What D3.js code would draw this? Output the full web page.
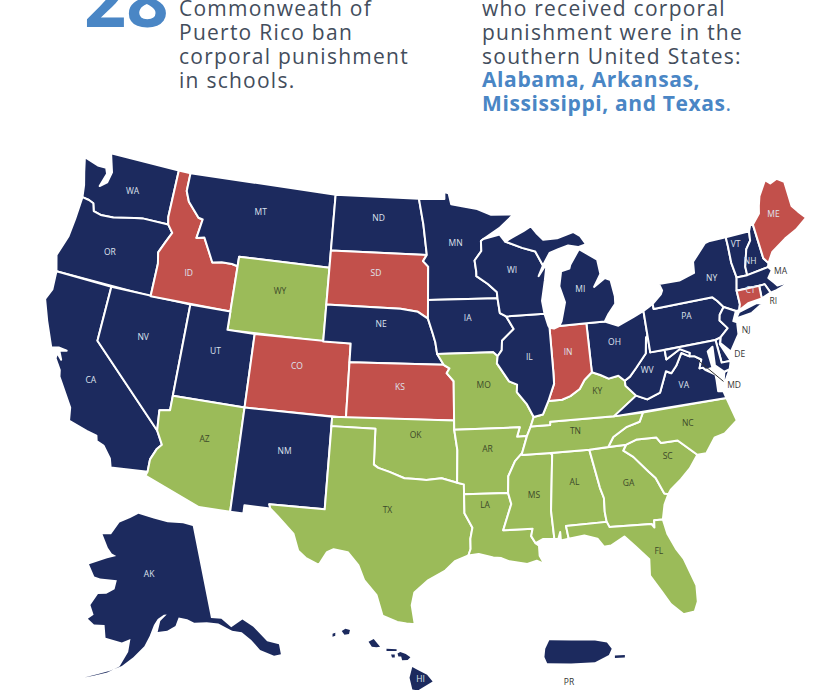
<!DOCTYPE html>
<html lang="en">
  <head>
    <meta charset="UTF-8" />
    <title>Corporal punishment in schools</title>
    <style>
      body { margin: 0; background: #fff; }
      text { font-family: "Open Sans", sans-serif; }
    </style>
  </head>
  <body>
    <svg width="840" height="690"></svg>

    <script src="https://cdn.jsdelivr.net/npm/d3@7"></script>
    <script>
      // policy groups
      const greenStates = ["WY","AZ","TX","OK","MO","AR","LA","MS","AL","GA","FL","SC","NC","TN","KY"];
      const redStates = ["ID","SD","CO","KS","IN","ME","CT"];
      const navyStates = ["WA","OR","CA","NV","UT","MT","ND","NE","NM","MN","IA","WI","IL","MI","OH","PA","NY","VT","NH","MA","RI","NJ","DE","MD","VA","WV","AK","HI","PR"];

      const leftLines = ["Commonweath of", "Puerto Rico ban", "corporal punishment", "in schools."];
      const rightLines = ["who received corporal", "punishment were in the", "southern United States:"];
      const rightBold = ["Alabama, Arkansas,", "Mississippi, and Texas"];

      // state outlines, lon/lat, hand simplified
      const WA = [[[-124.7,48.38],[-124.4,47.6],[-124.1,46.9],[-123.95,46.25],[-123.4,46.2],[-123,46.1],[-122.8,45.7],[-122.2,45.6],[-121.2,45.65],[-120.6,45.75],[-119.6,45.92],[-118.98,46],[-116.92,46],[-117.04,46.4],[-117.03,49],[-122.75,49],[-122.5,48.5],[-122.25,48],[-122.4,47.4],[-122.9,47.1],[-122.6,47.85],[-122.8,48.15],[-123.5,48.15]]];
      const OR = [[[-123.95,46.25],[-123.4,46.2],[-123,46.1],[-122.8,45.7],[-122.2,45.6],[-121.2,45.65],[-120.6,45.75],[-119.6,45.92],[-118.98,46],[-116.92,46],[-116.47,45.6],[-116.85,45],[-117.2,44.4],[-117.03,43.8],[-117.03,42],[-124.2,42],[-124.55,42.84],[-124.1,44],[-124,45]]];
      const CA = [[[-124.2,42],[-120,42],[-120,39],[-114.63,35],[-114.14,34.3],[-114.43,34],[-114.72,33.4],[-114.72,32.72],[-117.12,32.53],[-117.3,33],[-117.9,33.6],[-118.4,33.75],[-118.5,34.03],[-119.2,34.15],[-120.5,34.45],[-120.65,35.15],[-121.9,36.6],[-122,36.95],[-122.5,37.5],[-122.5,37.8],[-122.1,37.5],[-122.4,37.95],[-121.9,38.05],[-122.5,38.1],[-123,38],[-123.8,39.3],[-124.4,40.4],[-124.1,41]]];
      const NV = [[[-120,42],[-114.04,42],[-114.04,36.2],[-114.75,36.1],[-114.63,35],[-120,39]]];
      const ID = [[[-117.03,49],[-116.05,49],[-116.05,48],[-115.7,47.45],[-114.7,46.7],[-114.35,46.65],[-114.55,45.6],[-113.95,45.7],[-113.45,45.05],[-113,44.45],[-112.3,44.55],[-111.5,44.55],[-111.05,44.48],[-111.05,42],[-117.03,42],[-117.03,43.8],[-117.2,44.4],[-116.85,45],[-116.47,45.6],[-116.92,46],[-117.04,46.4]]];
      const MT = [[[-116.05,49],[-104.05,49],[-104.05,45],[-111.05,45],[-111.05,44.48],[-111.5,44.55],[-112.3,44.55],[-113,44.45],[-113.45,45.05],[-113.95,45.7],[-114.55,45.6],[-114.35,46.65],[-114.7,46.7],[-115.7,47.45],[-116.05,48]]];
      const WY = [[[-111.05,45],[-104.05,45],[-104.05,41],[-111.05,41]]];
      const UT = [[[-114.04,42],[-111.05,42],[-111.05,41],[-109.05,41],[-109.05,37],[-114.04,37]]];
      const CO = [[[-109.05,41],[-102.05,41],[-102.05,37],[-109.05,37]]];
      const AZ = [[[-114.04,37],[-109.05,37],[-109.05,31.33],[-111.07,31.33],[-114.81,32.5],[-114.72,32.72],[-114.72,33.4],[-114.43,34],[-114.14,34.3],[-114.63,35],[-114.75,36.1],[-114.04,36.2]]];
      const NM = [[[-109.05,37],[-103,37],[-103.04,32],[-106.62,32],[-106.53,31.78],[-108.2,31.78],[-108.2,31.33],[-109.05,31.33]]];
      const ND = [[[-104.05,49],[-97.23,49],[-96.85,47.6],[-96.56,45.94],[-104.05,45.94]]];
      const SD = [[[-104.05,45.94],[-96.56,45.94],[-96.85,45.6],[-96.45,45.3],[-96.45,43.5],[-96.45,42.49],[-97.2,42.85],[-98.5,43],[-104.05,43]]];
      const NE = [[[-104.05,43],[-98.5,43],[-97.2,42.85],[-96.45,42.49],[-96.1,41.7],[-95.9,41.2],[-95.77,40.58],[-95.31,40],[-102.05,40],[-102.05,41],[-104.05,41]]];
      const KS = [[[-102.05,40],[-95.31,40],[-94.9,39.8],[-95.1,39.55],[-94.61,39.11],[-94.62,37],[-102.05,37]]];
      const OK = [[[-103,37],[-94.62,37],[-94.62,36.5],[-94.43,35.4],[-94.48,33.64],[-95.5,33.9],[-96.5,33.8],[-97.2,33.85],[-97.95,33.88],[-98.95,34.2],[-99.7,34.4],[-100,34.56],[-100,36.5],[-103,36.5]]];
      const TX = [[[-103,36.5],[-100,36.5],[-100,34.56],[-99.7,34.4],[-98.95,34.2],[-97.95,33.88],[-97.2,33.85],[-96.5,33.8],[-95.5,33.9],[-94.48,33.64],[-94.04,33.55],[-94.04,33.02],[-94.04,31.99],[-93.55,31.2],[-93.7,30.6],[-93.7,30.05],[-93.85,29.7],[-94.7,29.4],[-95.3,28.9],[-96.4,28.35],[-97.2,27.7],[-97.35,27],[-97.15,25.96],[-97.65,26],[-98.2,26.07],[-99.1,26.4],[-99.5,27.5],[-100.3,28.3],[-100.7,29.1],[-101.4,29.77],[-102.3,29.88],[-102.7,29.7],[-103.15,28.98],[-104,29.3],[-104.5,29.65],[-104.9,30.55],[-106,31.4],[-106.53,31.78],[-106.62,32],[-103.04,32]]];
      const MN = [[[-97.23,49],[-95.15,49],[-95.15,49.38],[-94.8,49.3],[-94.6,48.7],[-93.5,48.55],[-92.5,48.4],[-91.4,48.05],[-89.6,48],[-90.8,47.3],[-92.1,46.75],[-92.3,46.65],[-92.3,46.1],[-92.85,45.6],[-92.75,45],[-92.75,44.75],[-91.9,44.3],[-91.25,43.85],[-91.22,43.5],[-96.45,43.5],[-96.45,45.3],[-96.85,45.6],[-96.56,45.94],[-96.85,47.6]]];
      const IA = [[[-96.45,43.5],[-91.22,43.5],[-91.1,42.7],[-90.65,42.5],[-90.15,41.8],[-91.05,41.2],[-91.1,40.7],[-91.42,40.38],[-91.73,40.61],[-95.77,40.58],[-95.9,41.2],[-96.1,41.7],[-96.45,42.49]]];
      const MO = [[[-95.77,40.58],[-91.73,40.61],[-91.42,40.38],[-91.5,40],[-90.7,39],[-90.15,38.8],[-90.2,38.4],[-89.55,37.7],[-89.15,37],[-89.4,36.5],[-89.7,36],[-90.37,36],[-90.15,36.5],[-94.62,36.5],[-94.62,37],[-94.61,39.11],[-95.1,39.55],[-94.9,39.8],[-95.31,40]]];
      const AR = [[[-94.62,36.5],[-90.15,36.5],[-90.37,36],[-89.7,36],[-90.1,35.1],[-90.6,34.7],[-91.1,33.9],[-91.17,33],[-94.04,33.02],[-94.04,33.55],[-94.48,33.64],[-94.43,35.4]]];
      const LA = [[[-94.04,33.02],[-91.17,33],[-91,32.4],[-91.6,31],[-89.73,31],[-89.85,30.6],[-89.6,30.2],[-89.4,30.05],[-89.4,29.5],[-89.15,29.05],[-89.6,29.25],[-90.2,29.1],[-91.3,29.3],[-91.8,29.5],[-92.3,29.55],[-93.2,29.77],[-93.85,29.7],[-93.7,30.05],[-93.7,30.6],[-93.55,31.2],[-94.04,31.99]]];
      const MS = [[[-90.1,35],[-88.2,35],[-88.1,34.9],[-88.47,31.9],[-88.4,30.35],[-89.1,30.4],[-89.6,30.2],[-89.85,30.6],[-89.73,31],[-91.6,31],[-91,32.4],[-91.17,33],[-91.1,33.9],[-90.6,34.7],[-90.1,35.1]]];
      const AL = [[[-88.2,35],[-85.6,34.98],[-85.18,32.87],[-85,32.3],[-85.05,31.55],[-85,31],[-87.6,31],[-87.5,30.3],[-88,30.25],[-88,30.7],[-88.15,30.35],[-88.4,30.35],[-88.47,31.9],[-88.1,34.9]]];
      const GA = [[[-85.6,34.98],[-83.11,35],[-83.35,34.7],[-82.75,34.3],[-81.9,33.4],[-81.5,33],[-81.1,32.1],[-80.85,32.03],[-81.2,31.5],[-81.45,30.72],[-82,30.75],[-82.05,30.36],[-82.2,30.57],[-84.86,30.7],[-85,31],[-85.05,31.55],[-85,32.3],[-85.18,32.87]]];
      const FL = [[[-87.6,31],[-85,31],[-84.86,30.7],[-82.2,30.57],[-82.05,30.36],[-82,30.75],[-81.45,30.72],[-81.3,29.9],[-80.9,29],[-80.55,28.45],[-80.05,26.9],[-80.13,26],[-80.4,25.5],[-81.1,25.45],[-81.75,26.1],[-82.2,26.9],[-82.75,27.8],[-82.65,28.7],[-83.4,29.5],[-84,30.1],[-84.9,29.7],[-85.35,29.68],[-85.7,30.15],[-86.5,30.4],[-87.5,30.3]]];
      const SC = [[[-83.11,35],[-82.35,35.2],[-81.05,35.15],[-80.8,34.82],[-79.67,34.8],[-78.55,33.86],[-79.2,33.2],[-79.9,32.7],[-80.65,32.25],[-80.85,32.03],[-81.1,32.1],[-81.5,33],[-81.9,33.4],[-82.75,34.3],[-83.35,34.7]]];
      const NC = [[[-84.32,35],[-83.11,35],[-82.35,35.2],[-81.05,35.15],[-80.8,34.82],[-79.67,34.8],[-78.55,33.86],[-77.95,33.85],[-77.2,34.6],[-76.5,34.7],[-75.53,35.25],[-75.9,36.55],[-81.68,36.59],[-82,36.12],[-82.9,35.95],[-83.9,35.5]]];
      const TN = [[[-89.4,36.5],[-88.07,36.5],[-88.05,36.68],[-83.68,36.6],[-81.68,36.59],[-82,36.12],[-82.9,35.95],[-83.9,35.5],[-84.32,35],[-85.6,34.98],[-88.2,35],[-90.1,35],[-90.1,35.1],[-89.7,36]]];
      const KY = [[[-89.15,37],[-89.4,36.5],[-88.07,36.5],[-88.05,36.68],[-83.68,36.6],[-81.97,37.54],[-82.6,38.15],[-82.6,38.42],[-83,38.73],[-83.7,38.65],[-84.25,38.9],[-84.82,39.1],[-85.4,38.73],[-85.8,38.28],[-86.5,37.95],[-87.1,37.8],[-88.05,37.8],[-88.5,37.1]]];
      const VA = [[[-83.68,36.6],[-75.9,36.55],[-76,36.95],[-76.35,37],[-76.3,37.6],[-76.3,37.9],[-76.9,38.25],[-77.05,38.4],[-77.3,38.4],[-77.05,38.85],[-77.5,39.1],[-77.83,39.14],[-78.35,39.4],[-78.87,38.77],[-79.3,38.42],[-79.65,38.58],[-80.3,37.5],[-81.25,37.25],[-81.97,37.54]],[[-75.95,37.15],[-75.65,37.95],[-75.25,38.03]]];
      const WV = [[[-81.97,37.54],[-81.25,37.25],[-80.3,37.5],[-79.65,38.58],[-79.3,38.42],[-78.87,38.77],[-78.35,39.4],[-77.83,39.14],[-77.75,39.32],[-78.4,39.62],[-79.48,39.2],[-79.48,39.72],[-80.52,39.72],[-80.52,40.64],[-80.65,40.55],[-80.85,39.7],[-81.7,39],[-82.2,38.6],[-82.6,38.42],[-82.6,38.15]]];
      const OH = [[[-80.52,41.98],[-81.3,41.75],[-82.5,41.4],[-83.45,41.72],[-84.8,41.76],[-84.82,39.1],[-84.25,38.9],[-83.7,38.65],[-83,38.73],[-82.6,38.42],[-82.2,38.6],[-81.7,39],[-80.85,39.7],[-80.65,40.55],[-80.52,40.64]]];
      const IN = [[[-87.52,41.72],[-87.2,41.65],[-86.8,41.76],[-84.8,41.76],[-84.82,39.1],[-85.4,38.73],[-85.8,38.28],[-86.5,37.95],[-87.1,37.8],[-88.05,37.8],[-87.55,38.7],[-87.53,39.35]]];
      const IL = [[[-90.65,42.5],[-87.8,42.5],[-87.6,41.85],[-87.52,41.72],[-87.53,39.35],[-87.55,38.7],[-88.05,37.8],[-88.5,37.1],[-89.15,37],[-89.55,37.7],[-90.2,38.4],[-90.15,38.8],[-90.7,39],[-91.5,40],[-91.42,40.38],[-91.1,40.7],[-91.05,41.2],[-90.15,41.8]]];
      const WI = [[[-92.1,46.75],[-90.8,46.95],[-90.4,46.55],[-89.1,46.15],[-88.1,45.9],[-87.6,45.1],[-88,44.55],[-87.3,45.2],[-87.55,44.3],[-87.9,43.2],[-87.8,42.5],[-90.65,42.5],[-91.1,42.7],[-91.22,43.5],[-91.25,43.85],[-91.9,44.3],[-92.75,44.75],[-92.75,45],[-92.85,45.6],[-92.3,46.1],[-92.3,46.65]]];
      const MI = [[[-86.8,41.76],[-84.8,41.76],[-83.45,41.72],[-83.1,42.1],[-82.5,42.6],[-82.45,43],[-82.6,43.9],[-83,44.05],[-83.9,43.65],[-83.3,44.3],[-83.4,45.1],[-84.7,45.78],[-85.5,45],[-85.6,44.8],[-86.25,44.7],[-86.5,43.9],[-86.2,43],[-86.6,42]],[[-90.4,46.55],[-89.1,46.15],[-88.1,45.9],[-87.6,45.1],[-87,45.75],[-86.3,45.9],[-85.5,46.05],[-84.75,45.9],[-84.1,46],[-84.5,46.5],[-85,46.75],[-86.3,46.5],[-87.4,46.5],[-87.9,46.9],[-88.4,47.4],[-87.8,47.47],[-88.9,47.05],[-89.6,46.83]]];
      const PA = [[[-80.52,41.98],[-79.76,42.27],[-79.76,42],[-75.35,42],[-75.05,41.75],[-74.7,41.36],[-75.1,41],[-75.2,40.7],[-74.75,40.2],[-75.4,39.8],[-75.79,39.72],[-80.52,39.72]]];
      const NY = [[[-79.76,42.27],[-79.05,42.7],[-78.9,42.9],[-79.05,43.27],[-77.5,43.25],[-76.3,43.5],[-76.2,44.1],[-75,44.95],[-74.7,45],[-73.35,45],[-73.35,44.5],[-73.4,43.6],[-73.27,42.75],[-73.5,42.05],[-73.5,41.3],[-73.65,41],[-73.9,41],[-74.7,41.36],[-75.05,41.75],[-75.35,42],[-79.76,42]],[[-74,40.6],[-73.7,40.9],[-72.3,41.15],[-71.9,41.05],[-72.8,40.7]]];
      const NJ = [[[-74.7,41.36],[-73.9,41],[-74.25,40.5],[-74,40.4],[-74.1,39.75],[-74.9,38.93],[-75.5,39.5],[-75.4,39.8],[-74.75,40.2],[-75.2,40.7],[-75.1,41]]];
      const DE = [[[-75.79,39.72],[-75.4,39.8],[-75.55,39.45],[-75.05,38.45],[-75.7,38.46]]];
      const MD = [[[-79.48,39.72],[-75.79,39.72],[-75.7,38.46],[-75.05,38.45],[-75.25,38.03],[-75.65,37.95],[-76.2,38.4],[-76.1,39.4],[-76.5,39.2],[-76.4,38.3],[-76.9,38.25],[-77.05,38.4],[-77.3,38.4],[-77.05,38.85],[-77.5,39.1],[-77.83,39.14],[-77.75,39.32],[-78.4,39.62],[-79.48,39.2]]];
      const VT = [[[-73.35,45],[-71.5,45],[-71.6,44.5],[-72.05,44.1],[-72.45,43.2],[-72.46,42.73],[-73.27,42.75],[-73.4,43.6],[-73.35,44.5]]];
      const NH = [[[-71.5,45],[-71.3,45.3],[-71.08,45.3],[-70.98,43.4],[-70.7,43.07],[-70.82,42.87],[-72.46,42.73],[-72.45,43.2],[-72.05,44.1],[-71.6,44.5]]];
      const ME = [[[-71.08,45.3],[-70.4,45.8],[-70.25,46.2],[-70,46.7],[-69.23,47.46],[-68.9,47.2],[-68.3,47.35],[-67.8,47.07],[-67.8,45.7],[-67.45,45.3],[-67,44.85],[-68,44.4],[-69,44.1],[-70.2,43.6],[-70.7,43.07],[-70.98,43.4]]];
      const MA = [[[-73.5,42.05],[-73.27,42.75],[-72.46,42.73],[-70.82,42.87],[-70.6,42.65],[-71,42.3],[-70.65,41.95],[-70.5,41.78],[-70,41.78],[-70.05,42.05],[-69.95,41.68],[-70.65,41.55],[-71.12,41.5],[-71.38,42.02],[-71.8,42.02]]];
      const RI = [[[-71.8,42.02],[-71.38,42.02],[-71.12,41.5],[-71.85,41.32]]];
      const CT = [[[-73.5,42.05],[-71.8,42.02],[-71.85,41.32],[-72.9,41.25],[-73.65,41],[-73.5,41.3]]];
      const AK = [[[-141,69.65],[-143.6,70.1],[-148,70.4],[-152,70.85],[-156.6,71.35],[-159,70.85],[-162,70.3],[-163.9,69],[-166.2,68.85],[-164.2,67.6],[-163,67.1],[-161.8,66.9],[-164,66.55],[-168.1,65.65],[-166.3,64.55],[-164.9,64.45],[-161,64.5],[-161.3,63.6],[-163,63.05],[-164.8,62.9],[-166,61.7],[-165,60.8],[-166,60.3],[-164.6,59.85],[-162.5,59.95],[-162,58.7],[-158.8,58.4],[-157.2,58.8],[-157.5,57.5],[-158.9,56],[-161,55.3],[-163.3,54.8],[-164.8,54.5],[-162.5,55.05],[-160.5,55.5],[-158.5,56.05],[-156.5,57],[-154.5,58.1],[-153.5,59.1],[-152.6,60.2],[-151.8,60.8],[-150.5,61.2],[-149.9,61.2],[-151.3,60.6],[-151.9,59.5],[-150,59.6],[-148.3,60],[-147.5,60.8],[-145.8,60.55],[-144.5,60.1],[-142,59.95],[-139.8,59.6],[-137.5,58.6],[-135.8,58.2],[-134.5,57.2],[-133.5,56],[-131.5,55],[-130.3,54.9],[-130,55.9],[-131.8,56.6],[-133.4,58.4],[-135,59.4],[-137.5,58.95],[-139,60],[-141,60.3]]];
      const HI = [[[-159.75,22.1],[-159.55,22.22],[-159.3,22.15],[-159.35,21.95],[-159.6,21.9]],[[-160.25,21.95],[-160.1,22],[-160.1,21.85],[-160.25,21.8]],[[-158.28,21.55],[-158,21.7],[-157.65,21.3],[-157.85,21.27],[-158.1,21.3]],[[-157.3,21.2],[-156.75,21.17],[-156.75,21.08],[-157.3,21.08]],[[-157.05,20.9],[-156.85,20.9],[-156.85,20.75],[-157,20.75]],[[-156.7,20.95],[-156.55,21.03],[-156.25,20.93],[-156,20.75],[-156.15,20.62],[-156.45,20.6],[-156.5,20.8],[-156.65,20.8]],[[-155.9,20.25],[-155.6,20.1],[-155.1,19.85],[-154.8,19.5],[-155.6,19.05],[-155.9,19.1],[-156.05,19.7]]];
      const PR = [[[-67.25,18.3],[-67.15,18.5],[-66.6,18.5],[-66,18.5],[-65.7,18.45],[-65.58,18.3],[-65.65,18.15],[-66,17.98],[-66.6,17.95],[-67.2,17.95],[-67.27,18.1]],[[-65.5,18.14],[-65.25,18.15],[-65.25,18.09],[-65.5,18.08]]];

      const outlines = { WA, OR, CA, NV, ID, MT, WY, UT, CO, AZ, NM, ND, SD, NE, KS, OK, TX, MN, IA, MO, AR, LA, MS, AL, GA, FL, SC, NC, TN, KY, VA, WV, OH, IN, IL, WI, MI, PA, NY, NJ, DE, MD, VT, NH, ME, MA, RI, CT, AK, HI, PR };

      // lon/lat anchor of each state code
      const labelAt = {
        WA:[-120.25,47.25], OR:[-120.75,43.75], CA:[-119.75,36.8], NV:[-116.9,39.75], ID:[-114.6,43.6], MT:[-109.9,47.55], WY:[-107.6,43.45], UT:[-111.65,39.75],
        CO:[-105.75,39.5], AZ:[-111.4,34.95], NM:[-106,34.9], ND:[-100.45,47.85], SD:[-100.45,44.85], NE:[-99.9,42.1], KS:[-98.4,38.75], OK:[-97.25,36.2],
        TX:[-99,32.1], MN:[-94.3,46.55], IA:[-93.5,42.45], MO:[-92.5,38.85], AR:[-92.4,35.4], LA:[-92.7,32.35], MS:[-89.5,32.75], AL:[-86.8,33.3],
        GA:[-83.3,32.9], FL:[-82,29], SC:[-80.5,34.05], NC:[-78.8,35.6], TN:[-86.4,36], KY:[-84.6,38.05], VA:[-78.6,37.65], WV:[-80.95,38.75],
        OH:[-82.95,40.5], IN:[-86.35,40.3], IL:[-89.15,40.2], WI:[-90,44.95], MI:[-84.95,43.6], PA:[-77.5,41.25], NY:[-75.1,43], NJ:[-73.5,39.85],
        DE:[-74.35,38.65], MD:[-75.2,37.1], VT:[-72.75,44.5], NH:[-72,43.4], ME:[-69.35,45.5], MA:[-70,42.45], RI:[-71.1,41], CT:[-72.5,41.9]
      };
      const akLabel = [-153.5,65.2];
      const hiLabel = [-155.45,19.6];
      const prLabel = [-66.65,17.5];

      const svg = d3.select("svg");
      const navy = "#1c2a5e", red = "#c2504b", green = "#9bbb59", blue = "#4a86c5", grey = "#434d5c";

      const main = d3.geoConicEqualArea().parallels([29.5, 45.5]).rotate([96, 0]).center([0, 38.7]).scale(1055).translate([434, 389]);
      const alaska = d3.geoConicEqualArea().parallels([55, 65]).rotate([154, 0]).center([0, 63]).scale(575).translate([147, 597]);
      const hawaii = d3.geoConicEqualArea().parallels([8, 18]).rotate([157, 0]).center([0, 20]).scale(1120).translate([392, 672]);
      const puerto = d3.geoConicEqualArea().parallels([8, 18]).rotate([66, 0]).center([0, 18.2]).scale(2400).translate([595, 653]);
      const projFor = c => c === "AK" ? alaska : c === "HI" ? hawaii : c === "PR" ? puerto : main;

      const line = d3.line();
      const color = d3.scaleOrdinal()
        .domain([...greenStates, ...redStates, ...navyStates])
        .range([...greenStates.map(() => green), ...redStates.map(() => red), ...navyStates.map(() => navy)]);

      svg.append("g").selectAll("path")
        .data(Object.keys(outlines))
        .join("path")
        .attr("d", c => outlines[c].map(r => line(r.map(projFor(c))) + "Z").join(""))
        .attr("fill", c => color(c))
        .attr("stroke", "#fff")
        .attr("stroke-width", c => (c === "AK" || c === "HI" || c === "PR") ? 0 : 2)
        .attr("stroke-linejoin", "round");

      // leader line for Maryland
      const mdFrom = main([-77.3, 38.85]), mdTo = main([-75.85, 37.45]);
      svg.append("line").attr("x1", mdFrom[0]).attr("y1", mdFrom[1]).attr("x2", mdTo[0]).attr("y2", mdTo[1])
        .attr("stroke", "#333").attr("stroke-width", 1);

      const outside = ["MA", "RI", "NJ", "DE", "MD"];
      const labels = Object.keys(labelAt).map(c => ({ c, p: main(labelAt[c]) }));
      labels.push({ c: "AK", p: alaska(akLabel) }, { c: "HI", p: hawaii(hiLabel) }, { c: "PR", p: puerto(prLabel) });

      svg.append("g").selectAll("text")
        .data(labels)
        .join("text")
        .attr("x", d => d.p[0])
        .attr("y", d => d.p[1])
        .attr("text-anchor", "middle")
        .attr("dominant-baseline", "middle")
        .attr("font-size", 8.5)
        .attr("fill", d => outside.includes(d.c) || d.c === "PR" ? "#333" : color(d.c) === green ? "#3d4a2a" : "#dfe3ee")
        .text(d => d.c);

      // header, cropped by the top of the page
      svg.append("text").attr("x", 84).attr("y", 27).attr("font-size", 74).attr("font-weight", 700).attr("fill", blue).text("28");

      svg.append("g").selectAll("text").data(leftLines).join("text")
        .attr("x", 179).attr("y", (d, i) => 16 + i * 24)
        .attr("font-size", 21).attr("letter-spacing", 1.25).attr("fill", grey).text(d => d);

      svg.append("g").selectAll("text").data(rightLines).join("text")
        .attr("x", 482).attr("y", (d, i) => 16 + i * 24)
        .attr("font-size", 21).attr("letter-spacing", 1.25).attr("fill", grey).text(d => d);

      const boldLines = svg.append("g").selectAll("text").data(rightBold).join("text")
        .attr("x", 482).attr("y", (d, i) => 87 + i * 24)
        .attr("font-size", 21).attr("letter-spacing", 0.6).attr("font-weight", 700).attr("fill", blue).text(d => d);
      boldLines.filter((d, i) => i === 1).append("tspan").attr("font-weight", 400).text(".");
    </script>
  </body>
</html>
